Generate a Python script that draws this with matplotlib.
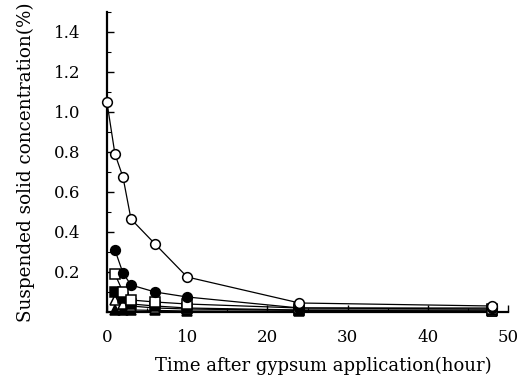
import matplotlib
matplotlib.use("Agg")
import matplotlib.pyplot as plt
from matplotlib.ticker import MultipleLocator

# Data
t_open_circle = [0, 1, 2, 3, 6, 10, 24, 48]
c_open_circle = [1.05, 0.79, 0.675, 0.465, 0.34, 0.175, 0.045, 0.03]

t_filled_circle = [1, 2, 3, 6, 10, 24, 48]
c_filled_circle = [0.31, 0.195, 0.135, 0.10, 0.075, 0.02, 0.02]

t_open_square = [1, 2, 3, 6, 10, 24, 48]
c_open_square = [0.19, 0.10, 0.06, 0.05, 0.04, 0.02, 0.015]

t_filled_square = [1, 2, 3, 6, 10, 24, 48]
c_filled_square = [0.10, 0.07, 0.04, 0.03, 0.02, 0.01, 0.01]

t_open_triangle = [1, 2, 3, 6, 10, 24, 48]
c_open_triangle = [0.06, 0.04, 0.03, 0.02, 0.015, 0.008, 0.005]

t_filled_triangle = [1, 2, 3, 6, 10, 24, 48]
c_filled_triangle = [0.012, 0.01, 0.01, 0.008, 0.005, 0.004, 0.003]

x_ticks = [0, 10, 20, 30, 40, 50]
y_ticks = [0.2, 0.4, 0.6, 0.8, 1.0, 1.2, 1.4]

plt.rcParams['font.family'] = ['DejaVu Serif']

fig = plt.figure(figsize=(5.19, 3.75), dpi=100)
ax = fig.add_axes([0.206, 0.168, 0.773, 0.800])

series = [
    (t_filled_triangle, c_filled_triangle, '^', 'black'),
    (t_open_triangle, c_open_triangle, '^', 'white'),
    (t_filled_square, c_filled_square, 's', 'black'),
    (t_open_square, c_open_square, 's', 'white'),
    (t_filled_circle, c_filled_circle, 'o', 'black'),
    (t_open_circle, c_open_circle, 'o', 'white'),
]
for t, c, m, fc in series:
    ax.plot(t, c, color='black', lw=0.9, marker=m, markersize=7,
            markerfacecolor=fc, markeredgecolor='black', markeredgewidth=1.1,
            clip_on=False, zorder=3)

ax.set_xlim(0, 50)
ax.set_ylim(0, 1.5)
ax.set_xticks(x_ticks)
ax.set_xticklabels([str(v) for v in x_ticks])
ax.set_yticks(y_ticks)
ax.set_yticklabels([f"{v:.1f}" for v in y_ticks])
ax.yaxis.set_minor_locator(MultipleLocator(0.1))
ax.xaxis.set_minor_locator(MultipleLocator(5))

for s in ['top', 'right']:
    ax.spines[s].set_visible(False)
for s in ['left', 'bottom']:
    ax.spines[s].set_linewidth(1.6)

ax.tick_params(axis='both', which='major', direction='in', length=5, width=1.0,
               labelsize=12)
ax.tick_params(axis='both', which='minor', direction='in', length=3, width=0.8)
ax.tick_params(axis='y', pad=19)
ax.tick_params(axis='x', pad=12)

ax.set_xlabel('Time after gypsum application(hour)', fontsize=13)
ax.xaxis.set_label_coords(0.54, -0.148)
ax.set_ylabel('Suspended solid concentration(%)', fontsize=13.2)
ax.yaxis.set_label_coords(-0.18, 0.5)

fig.savefig('out.png', dpi=100)
